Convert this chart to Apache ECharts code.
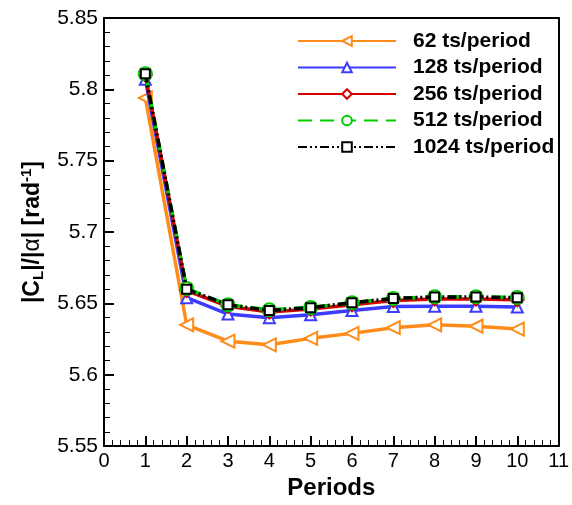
<!DOCTYPE html>
<html>
<head>
<meta charset="utf-8">
<script src="https://cdn.jsdelivr.net/npm/echarts@6/dist/echarts.min.js"></script>
<style>
  html, body { margin: 0; padding: 0; background: #fff; }
  #chart { width: 572px; height: 505px; }
</style>
</head>
<body>
<div id="chart"></div>
<script>
// data
var periods = [1, 2, 3, 4, 5, 6, 7, 8, 9, 10];
var ts62   = [5.794, 5.635, 5.6235, 5.621, 5.6255, 5.629, 5.633, 5.635, 5.634, 5.632];
var ts128  = [5.807, 5.654, 5.6425, 5.640, 5.642, 5.645, 5.6478, 5.648, 5.648, 5.6475];
var ts256  = [5.810, 5.659, 5.648, 5.644, 5.646, 5.649, 5.652, 5.653, 5.653, 5.6525];
var ts512  = [5.811, 5.6605, 5.649, 5.6455, 5.6472, 5.6505, 5.6535, 5.6547, 5.6547, 5.6542];
var ts1024 = [5.811, 5.660, 5.649, 5.645, 5.647, 5.6505, 5.6535, 5.6545, 5.6545, 5.654];
var names  = ['62 ts/period', '128 ts/period', '256 ts/period', '512 ts/period', '1024 ts/period'];

function pairs(ys) {
    return periods.map(function (p, i) { return [p, ys[i]]; });
}

var chart = echarts.init(document.getElementById('chart'));

// plain frame line for the top / right sides
var frameAxis = {
    axisLine: { show: true, onZero: false, lineStyle: { color: '#000', width: 2 } },
    axisTick: { show: false },
    axisLabel: { show: false },
    splitLine: { show: false }
};

var option = {
    animation: false,
    backgroundColor: '#fff',
    textStyle: { fontFamily: 'Liberation Sans, Arial, sans-serif' },
    grid: { left: 104, right: 8, top: 18, bottom: 53 },
    legend: {
        orient: 'vertical',
        left: 292,
        top: 25,
        itemWidth: 98,
        itemHeight: 12,
        itemGap: 4.5,
        textStyle: { fontSize: 21, lineHeight: 22, fontWeight: 'bold', color: '#000', padding: [0, 0, 0, 12] },
        data: names
    },
    xAxis: [{
        type: 'value',
        position: 'bottom',
        min: 0, max: 11, interval: 1,
        name: 'Periods',
        nameLocation: 'middle',
        nameGap: 26,
        nameTextStyle: { fontSize: 24, lineHeight: 24, fontWeight: 'bold', color: '#000' },
        axisLine: { onZero: false, lineStyle: { color: '#000', width: 2 } },
        axisTick: { inside: true, length: 10, lineStyle: { color: '#000', width: 2 } },
        minorTick: { show: true, splitNumber: 5, length: 6, lineStyle: { color: '#000', width: 1 } },
        axisLabel: { fontSize: 20, color: '#000', margin: 5 },
        splitLine: { show: false }
    }, Object.assign({ type: 'value', position: 'top', min: 0, max: 11 }, frameAxis)],
    yAxis: [{
        type: 'value',
        position: 'left',
        min: 5.55, max: 5.85, interval: 0.05,
        name: '{b||C}{sub|L}{b||/|}{a|α}{b|| [rad}{sup|-1}{b|]}',
        nameLocation: 'middle',
        nameRotate: 90,
        nameGap: 53,
        nameTextStyle: {
            fontSize: 23, fontWeight: 'bold', color: '#000',
            rich: {
                b: { fontSize: 23, fontWeight: 'bold', color: '#000' },
                a: { fontSize: 23, fontWeight: 'normal', color: '#000' },
                sub: { fontSize: 15, fontWeight: 'bold', color: '#000', padding: [12, 0, 0, 0] },
                sup: { fontSize: 15, fontWeight: 'bold', color: '#000', padding: [0, 0, 12, 0] }
            }
        },
        axisLine: { lineStyle: { color: '#000', width: 2 } },
        axisTick: { inside: true, length: 10, lineStyle: { color: '#000', width: 2 } },
        minorTick: { show: true, splitNumber: 5, length: 6, lineStyle: { color: '#000', width: 1 } },
        axisLabel: {
            fontSize: 21, color: '#000', margin: 6,
            formatter: function (v) { return String(+v.toFixed(2)); }
        },
        splitLine: { show: false }
    }, Object.assign({ type: 'value', position: 'right', min: 5.55, max: 5.85 }, frameAxis)],
    series: [
        {
            name: names[0], type: 'line', data: pairs(ts62),
            color: '#ff8c1a',
            symbol: 'emptyTriangle', symbolRotate: 90, symbolSize: 13,
            lineStyle: { width: 3.5, type: 'solid' },
            itemStyle: { borderWidth: 2 }, z: 2
        },
        {
            name: names[1], type: 'line', data: pairs(ts128),
            color: '#3c3cff',
            symbol: 'emptyTriangle', symbolSize: 11,
            lineStyle: { width: 3.5, type: 'solid' },
            itemStyle: { borderWidth: 2 }, z: 3
        },
        {
            name: names[2], type: 'line', data: pairs(ts256),
            color: '#d40000',
            symbol: 'emptyDiamond', symbolSize: 13,
            lineStyle: { width: 3.5, type: 'solid' },
            itemStyle: { borderWidth: 2 }, z: 4
        },
        {
            name: names[3], type: 'line', data: pairs(ts512),
            color: '#00cc00',
            symbol: 'emptyCircle', symbolSize: 13,
            lineStyle: { width: 3.5, type: [14, 8] },
            itemStyle: { borderWidth: 2 }, z: 5
        },
        {
            name: names[4], type: 'line', data: pairs(ts1024),
            color: '#000',
            symbol: 'emptyRect', symbolSize: 9,
            lineStyle: { width: 3.5, type: [9, 3, 2, 3, 2, 3] },
            itemStyle: { borderWidth: 2 }, z: 6
        }
    ]
};

chart.setOption(option);
</script>
</body>
</html>
